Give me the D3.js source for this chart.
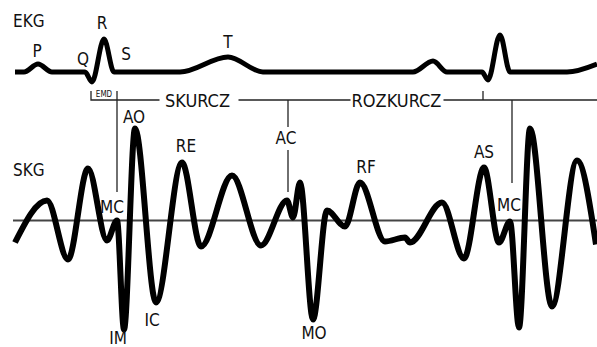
<!DOCTYPE html>
<html>
<head>
<meta charset="utf-8">
<script src="https://cdn.jsdelivr.net/npm/d3@7"></script>
<style>
  html, body { margin: 0; padding: 0; background: #fff; }
  svg { display: block; }
  text { font-family: "Liberation Sans Narrow", "DejaVu Sans Condensed", "Roboto", sans-serif; fill: #111; }
</style>
</head>
<body>
<div class="chart"></div>
<script>
// time axis in ms, EKG in mV, SKG in arbitrary units
const ekgTime = [4, 22, 50, 78, 144, 158, 182, 202, 334, 430, 500, 800, 840, 868, 938, 950, 974, 994, 1108, 1168];
const ekgValue = [0, 0, 0.25, 0, 0, -0.31, 1.03, 0, 0, 0.47, 0, 0, 0.34, 0, 0, -0.25, 1.16, 0, 0, 0.25];

const skgTime = [4, 68, 110, 150, 188, 208, 222, 244, 286, 338, 376, 438, 496, 548, 560, 574, 600, 628, 664, 694,
  744, 784, 794, 858, 902, 942, 972, 994, 1012, 1034, 1078, 1128, 1166];
const skgValue = [-22, 20, -39, 52, -20, 0, -109, 92, -82, 58, -26, 45, -25, 20, 3, 38, -99, 10, -6, 38,
  -21, -17, -22, 18, -38, 53, -22, -1, -107, 92, -86, 60, -24];

// EKG wave labels
const ekgLabels = ['P', 'Q', 'R', 'S', 'T'];
const ekgLabelTime = [48, 140, 178, 226, 430];
const ekgLabelValue = [0.47, 0.22, 1.34, 0.37, 0.75];

// SKG point labels
const skgLabels = ['MC', 'IM', 'AO', 'IC', 'RE', 'AC', 'MO', 'RF', 'AS', 'MC'];
const skgLabelTime = [198, 210, 242, 278, 346, 546, 602, 706, 942, 992];
const skgLabelValue = [8, -123, 98, -105, 69, 77, -118, 48, 63, 10];

// phases: EMD start, MC, AC, next Q, next MC
const eventTime = [156, 208, 550, 940, 998];
const phaseLabels = ['SKURCZ', 'ROZKURCZ'];
const phaseLabelTime = [369, 767];

const width = 597, height = 347;

const x = d3.scaleLinear().domain([0, 1170]).range([13, 598]);
const yEkg = d3.scaleLinear().domain([0, 1]).range([72, 40]);
const ySkg = d3.scaleLinear().domain([-100, 100]).range([320.5, 120.5]);

const svg = d3.select('.chart').append('svg')
  .attr('width', width)
  .attr('height', height);

// SKG zero line
svg.append('line')
  .attr('x1', x(0)).attr('x2', width)
  .attr('y1', ySkg(0)).attr('y2', ySkg(0))
  .attr('stroke', '#444')
  .attr('stroke-width', 2);

// phase annotation lines
const phaseY = 100;
const g = svg.append('g')
  .attr('stroke', '#222')
  .attr('stroke-width', 1.3)
  .attr('fill', 'none');

g.append('path')
  .attr('d', 'M' + x(eventTime[0]) + ',' + (phaseY - 9) + 'V' + phaseY + 'H' + (x(phaseLabelTime[0]) - 38));
g.append('line')
  .attr('x1', x(phaseLabelTime[0]) + 41).attr('x2', x(phaseLabelTime[1]) - 46)
  .attr('y1', phaseY).attr('y2', phaseY);
g.append('line')
  .attr('x1', x(phaseLabelTime[1]) + 47).attr('x2', width)
  .attr('y1', phaseY).attr('y2', phaseY);
// MC line
g.append('line')
  .attr('x1', x(eventTime[1])).attr('x2', x(eventTime[1]))
  .attr('y1', phaseY - 9).attr('y2', 192);
// AC line, broken by its label
g.append('line')
  .attr('x1', x(eventTime[2])).attr('x2', x(eventTime[2]))
  .attr('y1', phaseY).attr('y2', 127);
g.append('line')
  .attr('x1', x(eventTime[2])).attr('x2', x(eventTime[2]))
  .attr('y1', 150).attr('y2', 192);
// next Q tick
g.append('line')
  .attr('x1', x(eventTime[3])).attr('x2', x(eventTime[3]))
  .attr('y1', phaseY - 9).attr('y2', phaseY);
// second MC line
g.append('line')
  .attr('x1', x(eventTime[4])).attr('x2', x(eventTime[4]))
  .attr('y1', phaseY).attr('y2', 183);

// curves
const ekgLine = d3.line()
  .x((d, i) => x(ekgTime[i]))
  .y(d => yEkg(d))
  .curve(d3.curveMonotoneX);

const skgLine = d3.line()
  .x((d, i) => x(skgTime[i]))
  .y(d => ySkg(d))
  .curve(d3.curveMonotoneX);

svg.append('path')
  .attr('d', ekgLine(ekgValue))
  .attr('fill', 'none')
  .attr('stroke', '#000')
  .attr('stroke-width', 5)
  .attr('stroke-linejoin', 'round');

svg.append('path')
  .attr('d', skgLine(skgValue))
  .attr('fill', 'none')
  .attr('stroke', '#000')
  .attr('stroke-width', 6)
  .attr('stroke-linejoin', 'round');

// titles
svg.append('text').attr('x', 13).attr('y', 27).style('font-size', '17px').text('EKG');
svg.append('text').attr('x', 13).attr('y', 176).style('font-size', '17px').text('SKG');

svg.selectAll('.ekg-label')
  .data(ekgLabels)
  .enter()
  .append('text')
  .attr('class', 'ekg-label')
  .attr('text-anchor', 'middle')
  .attr('x', (d, i) => x(ekgLabelTime[i]))
  .attr('y', (d, i) => yEkg(ekgLabelValue[i]))
  .style('font-size', '17px')
  .text(d => d);

svg.selectAll('.skg-label')
  .data(skgLabels)
  .enter()
  .append('text')
  .attr('class', 'skg-label')
  .attr('text-anchor', 'middle')
  .attr('x', (d, i) => x(skgLabelTime[i]))
  .attr('y', (d, i) => ySkg(skgLabelValue[i]))
  .style('font-size', '17px')
  .text(d => d);

svg.selectAll('.phase-label')
  .data(phaseLabels)
  .enter()
  .append('text')
  .attr('class', 'phase-label')
  .attr('text-anchor', 'middle')
  .attr('x', (d, i) => x(phaseLabelTime[i]))
  .attr('y', phaseY + 7)
  .style('font-size', '18px')
  .text(d => d);

svg.append('text')
  .attr('text-anchor', 'middle')
  .attr('x', (x(eventTime[0]) + x(eventTime[1])) / 2)
  .attr('y', phaseY - 3)
  .style('font-size', '8px')
  .text('EMD');
</script>
</body>
</html>
